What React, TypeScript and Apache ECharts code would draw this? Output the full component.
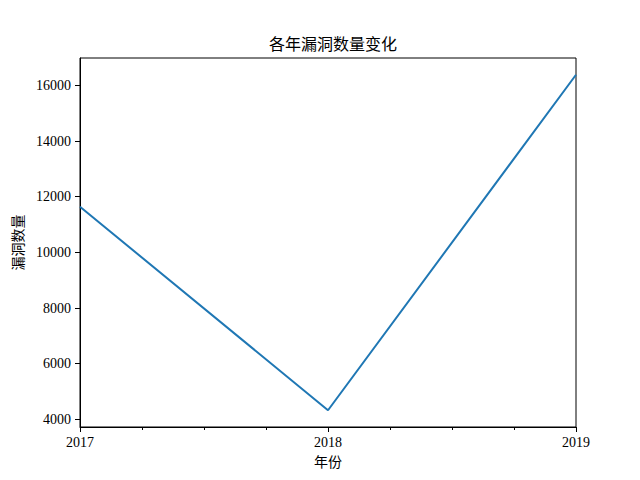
import { useEffect, useRef } from 'react'
import * as echarts from 'echarts'

// Dados
const ANOS = [2017, 2018, 2019]
const VULNERABILIDADES = [11640, 4330, 16380]
const TICKS_Y = [4000, 6000, 8000, 10000, 12000, 14000, 16000]

const FONTE = "'Liberation Serif', 'Noto Sans CJK SC', serif"

// margem de 5% como no matplotlib
const minDados = Math.min(...VULNERABILIDADES)
const maxDados = Math.max(...VULNERABILIDADES)
const folga = (maxDados - minDados) * 0.05

export default function App() {
  const containerRef = useRef<HTMLDivElement>(null)

  useEffect(() => {
    document.body.style.margin = '0'
    if (!containerRef.current) return
    const instancia = echarts.init(containerRef.current, undefined, { renderer: 'svg' })

    instancia.setOption({
      animation: false,
      backgroundColor: '#fff',
      textStyle: { fontFamily: FONTE },
      title: {
        text: '各年漏洞数量变化',
        left: 328,
        top: 31,
        textAlign: 'center',
        textStyle: { fontFamily: FONTE, fontSize: 16, fontWeight: 'normal', color: '#000' },
      },
      grid: {
        left: 80,
        right: 64,
        top: 58,
        bottom: 53,
        show: true,
        borderColor: '#000',
        borderWidth: 1,
      },
      xAxis: {
        type: 'value',
        min: 2017,
        max: 2019,
        interval: 1,
        name: '年份',
        nameLocation: 'middle',
        nameGap: 28,
        nameTextStyle: { fontFamily: FONTE, fontSize: 14, color: '#000' },
        axisLine: { show: true, lineStyle: { color: '#000', width: 1 } },
        axisTick: { show: true, length: 5, lineStyle: { color: '#000' } },
        minorTick: { show: true, splitNumber: 4, length: 3, lineStyle: { color: '#000' } },
        axisLabel: {
          margin: 8,
          fontFamily: FONTE,
          fontSize: 14,
          color: '#000',
          formatter: (v: number) => String(v),
        },
        splitLine: { show: false },
      },
      yAxis: {
        type: 'value',
        min: minDados - folga,
        max: maxDados + folga,
        name: '漏洞数量',
        nameLocation: 'middle',
        nameGap: 44,
        nameTextStyle: { fontFamily: FONTE, fontSize: 14, color: '#000' },
        axisLine: { show: true, lineStyle: { color: '#000', width: 1 } },
        axisTick: { show: true, length: 5, customValues: TICKS_Y, lineStyle: { color: '#000' } },
        axisLabel: {
          margin: 9,
          fontFamily: FONTE,
          fontSize: 14,
          color: '#000',
          customValues: TICKS_Y,
          formatter: (v: number) => String(v),
        },
        splitLine: { show: false },
      },
      series: [
        {
          type: 'line',
          data: ANOS.map((ano, i) => [ano, VULNERABILIDADES[i]]),
          symbol: 'none',
          lineStyle: { color: '#1f77b4', width: 2 },
        },
      ],
    })

    return () => instancia.dispose()
  }, [])

  return <div ref={containerRef} style={{ width: 640, height: 480 }} />
}
